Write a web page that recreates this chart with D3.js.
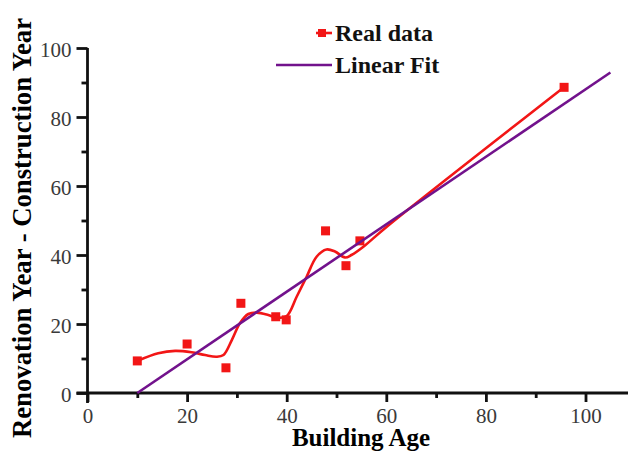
<!DOCTYPE html>
<html>
<head>
<meta charset="utf-8">
<script src="https://cdn.jsdelivr.net/npm/d3@7"></script>
<style>
  html, body { margin: 0; padding: 0; background: #fff; }
  svg { display: block; }
  text { font-family: "Liberation Serif", "Times New Roman", Times, serif; }
</style>
</head>
<body>
<svg id="chart" width="628" height="451"></svg>
<script>
// measured points (building age vs renovation - construction year)
const ageX   = [10, 20, 27.8, 30.8, 37.8, 39.9, 47.8, 51.9, 54.7, 95.7];
const diffY  = [9.3, 14.2, 7.3, 26, 22.1, 21.2, 47, 36.9, 44.1, 88.6];

// smoothed red curve
const curveX = [10.2, 14.2, 17.6, 20.9, 23.6, 25.9, 27.3, 29, 30.6, 32.3, 34, 36.3, 38, 40, 42, 44, 46, 48, 49.7, 51.7, 53, 55.4, 60.1, 96];
const curveY = [9.4, 11.5, 12.2, 11.8, 11, 10.5, 11, 15.4, 20.2, 22.9, 23.3, 22.6, 21.8, 22.3, 27.9, 33.7, 39.5, 41.6, 41, 39.3, 40, 42.4, 48.2, 89];

// linear fit endpoints
const fitX = [10, 105];
const fitY = [0, 92.9];

const xMajor = [0, 20, 40, 60, 80, 100];
const xMinor = [10, 30, 50, 70, 90, 110];
const yMajor = [0, 20, 40, 60, 80, 100];
const yMinor = [10, 30, 50, 70, 90];

const legendLabels = ["Real data", "Linear Fit"];

const RED = "#f21616", PURPLE = "#72128c";

const svg = d3.select("#chart");
const x = d3.scaleLinear().domain([0, 110]).range([87.5, 635.3]);
const y = d3.scaleLinear().domain([0, 100]).range([393, 48]);

/* axes */
const axisW = 2.8;
const gx = svg.append("g").attr("transform", `translate(0,${y(0)})`);
gx.call(d3.axisBottom(x).tickValues(xMajor).tickSize(9).tickPadding(6).tickSizeOuter(0));
gx.append("g").call(d3.axisBottom(x).tickValues(xMinor).tickSize(5).tickFormat("").tickSizeOuter(0))
  .select(".domain").remove();
gx.select(".domain").attr("d", `M${x(0) - 11},0H640`);

const gy = svg.append("g").attr("transform", `translate(${x(0)},0)`);
gy.call(d3.axisLeft(y).tickValues(yMajor).tickSize(11).tickPadding(5).tickSizeOuter(0));
gy.append("g").call(d3.axisLeft(y).tickValues(yMinor).tickSize(6).tickFormat("").tickSizeOuter(0))
  .select(".domain").remove();
gy.select(".domain").attr("d", `M0,${y(100)}V${y(0) + 10}`);

svg.selectAll(".domain, .tick line").attr("stroke", "#111").attr("stroke-width", axisW);
svg.selectAll(".tick text").attr("fill", "#3a3a3a").style("font-size", "21px");
gy.selectAll(".tick text").attr("dy", "0.42em");

/* axis titles */
svg.append("text")
  .attr("x", 361).attr("y", 446)
  .attr("text-anchor", "middle")
  .style("font-size", "25px").style("font-weight", "bold")
  .text("Building Age");
svg.append("text")
  .attr("transform", "translate(31,228) rotate(-90)")
  .attr("text-anchor", "middle")
  .style("font-size", "26.7px").style("font-weight", "bold")
  .text("Renovation Year - Construction Year");

/* red smoothed curve */
const pts = curveX.map((v, i) => [v, curveY[i]]);
svg.append("path")
  .attr("d", d3.line().x(d => x(d[0])).y(d => y(d[1])).curve(d3.curveCatmullRom.alpha(0.5))(pts))
  .attr("fill", "none").attr("stroke", RED).attr("stroke-width", 2.6);

/* squares */
const sq = 9;
svg.append("g").selectAll("rect")
  .data(ageX.map((v, i) => ({ x: v, y: diffY[i] })))
  .join("rect")
  .attr("x", d => x(d.x) - sq / 2).attr("y", d => y(d.y) - sq / 2)
  .attr("width", sq).attr("height", sq)
  .attr("fill", RED);

/* linear fit */
const fitPts = fitX.map((v, i) => [v, fitY[i]]);
svg.append("path")
  .attr("d", d3.line().x(d => x(d[0])).y(d => y(d[1]))(fitPts))
  .attr("fill", "none").attr("stroke", PURPLE).attr("stroke-width", 2.6);

/* legend */
const lg = svg.append("g");
lg.append("line").attr("x1", 316).attr("x2", 332).attr("y1", 33).attr("y2", 33)
  .attr("stroke", RED).attr("stroke-width", 2.6);
lg.append("rect").attr("x", 322 - 4).attr("y", 33 - 4).attr("width", 8).attr("height", 8).attr("fill", RED);
lg.append("line").attr("x1", 276).attr("x2", 332).attr("y1", 65).attr("y2", 65)
  .attr("stroke", PURPLE).attr("stroke-width", 2.6);
lg.selectAll("text").data(legendLabels).join("text")
  .attr("x", 335).attr("y", (d, i) => 41 + i * 32)
  .style("font-size", "24px").style("font-weight", "bold").attr("fill", "#111")
  .text(d => d);
</script>
</body>
</html>
